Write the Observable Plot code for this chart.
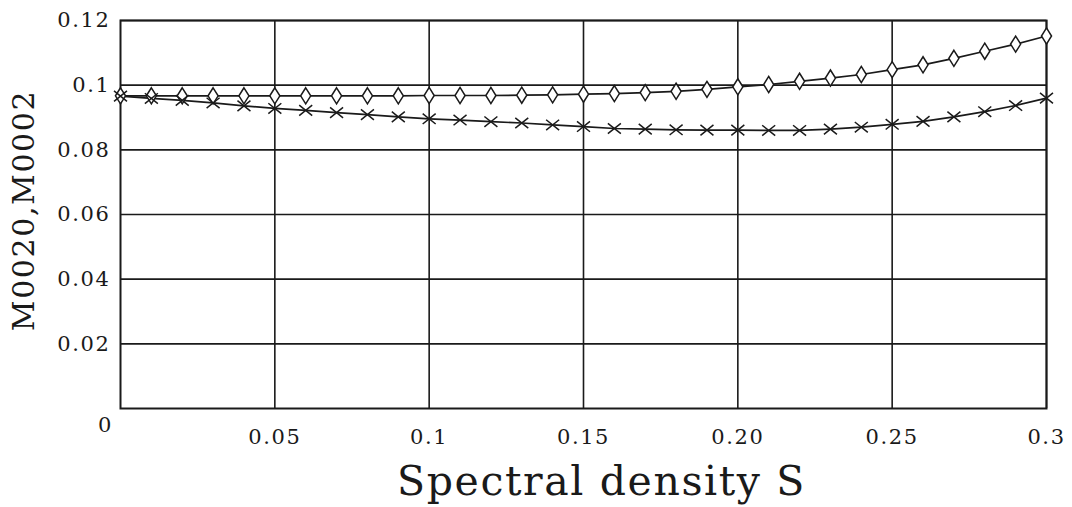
<!DOCTYPE html>
<html>
<head>
<meta charset="utf-8">
<script src="https://cdn.jsdelivr.net/npm/d3@7"></script>
<script src="https://cdn.jsdelivr.net/npm/@observablehq/plot@0.6"></script>
<style>
  html, body { margin: 0; padding: 0; background: #fff; }
  #chart svg { display: block; }
  #chart svg text { letter-spacing: 1.6px; }
</style>
</head>
<body>
<div id="chart"></div>
<script>
// Spectral density S (x values)
const sValues = [0, 0.01, 0.02, 0.03, 0.04, 0.05, 0.06, 0.07, 0.08, 0.09,
  0.10, 0.11, 0.12, 0.13, 0.14, 0.15, 0.16, 0.17, 0.18, 0.19,
  0.20, 0.21, 0.22, 0.23, 0.24, 0.25, 0.26, 0.27, 0.28, 0.29, 0.30];
// M0020 (diamonds)
const m0020 = [0.0967, 0.0967, 0.0967, 0.0967, 0.0967, 0.0967, 0.0967, 0.0967, 0.0967, 0.0967,
  0.0968, 0.0968, 0.0968, 0.0969, 0.0970, 0.0972, 0.0974, 0.0977, 0.0981, 0.0987,
  0.0995, 0.1002, 0.1012, 0.1022, 0.1033, 0.1048, 0.1063, 0.1083, 0.1105, 0.1127, 0.1152];
// M0002 (crosses)
const m0002 = [0.0966, 0.0959, 0.0953, 0.0945, 0.0936, 0.0928, 0.0922, 0.0915, 0.0909, 0.0902,
  0.0896, 0.0892, 0.0887, 0.0883, 0.0877, 0.0872, 0.0866, 0.0864, 0.0862, 0.0861,
  0.0861, 0.0860, 0.0860, 0.0864, 0.0870, 0.0879, 0.0888, 0.0902, 0.0918, 0.0937, 0.0960];

const xTicks = [0.05, 0.10, 0.15, 0.20, 0.25, 0.30];
const xTickLabels = ["0.05", "0.1", "0.15", "0.20", "0.25", "0.3"];
const yTicks = [0.02, 0.04, 0.06, 0.08, 0.10, 0.12];
const yTickLabels = ["0.02", "0.04", "0.06", "0.08", "0.1", "0.12"];
const originLabel = "0";
const xLabel = "Spectral density S";
const yLabel = "M0020,M0002";

const dataA = sValues.map((s, i) => ({s, v: m0020[i]}));
const dataB = sValues.map((s, i) => ({s, v: m0002[i]}));
const xTickData = xTicks.map((t, i) => ({t, label: xTickLabels[i]}));
const yTickData = yTicks.map((t, i) => ({t, label: yTickLabels[i]}));

const tallDiamond = {
  draw(context, size) {
    const r = Math.sqrt(size / Math.PI);
    const hw = r * 0.72, hh = r * 1.15;
    context.moveTo(0, -hh);
    context.lineTo(hw, 0);
    context.lineTo(0, hh);
    context.lineTo(-hw, 0);
    context.closePath();
  }
};
const cross = {
  draw(context, size) {
    const r = Math.sqrt(size / Math.PI);
    const hw = r, hh = r * 0.8;
    context.moveTo(-hw, -hh);
    context.lineTo(hw, hh);
    context.moveTo(-hw, hh);
    context.lineTo(hw, -hh);
  }
};

const ink = "#1a1a1a";
const font = "'DejaVu Serif', 'Liberation Serif', serif";

const chart = Plot.plot({
  width: 1072,
  height: 507,
  marginLeft: 120,
  marginRight: 26,
  marginTop: 20,
  marginBottom: 99,
  style: {fontFamily: font, fontSize: "21px", color: ink, background: "#fff"},
  x: {domain: [0, 0.3], axis: null},
  y: {domain: [0, 0.12], axis: null},
  marks: [
    Plot.ruleY(yTicks, {stroke: ink, strokeWidth: 1.6}),
    Plot.ruleX(xTicks, {stroke: ink, strokeWidth: 1.6}),
    Plot.frame({stroke: ink, strokeWidth: 2}),
    Plot.line(dataA, {x: "s", y: "v", stroke: ink, strokeWidth: 1.7}),
    Plot.line(dataB, {x: "s", y: "v", stroke: ink, strokeWidth: 1.7}),
    Plot.dot(dataA, {x: "s", y: "v", symbol: tallDiamond, r: 7, stroke: ink, fill: "white", strokeWidth: 1.5}),
    Plot.dot(dataB, {x: "s", y: "v", symbol: cross, r: 6.5, stroke: ink, strokeWidth: 1.5}),
    Plot.text(yTickData, {x: 0, y: "t", text: "label", textAnchor: "end", dx: -10, fill: ink, fontSize: 21}),
    Plot.text(xTickData, {x: "t", y: 0, text: "label", dy: 29, fill: ink, fontSize: 21}),
    Plot.text([originLabel], {x: 0, y: 0, text: d => d, dx: -15, dy: 17, fill: ink, fontSize: 21}),
    Plot.text([xLabel], {frameAnchor: "bottom", text: d => d, dy: 86, dx: 18, fill: ink, fontSize: 41}),
    Plot.text([yLabel], {frameAnchor: "left", text: d => d, textAnchor: "middle", dx: -96, dy: -4, rotate: -90, fill: ink, fontSize: 30})
  ]
});
document.getElementById("chart").appendChild(chart);
</script>
</body>
</html>
